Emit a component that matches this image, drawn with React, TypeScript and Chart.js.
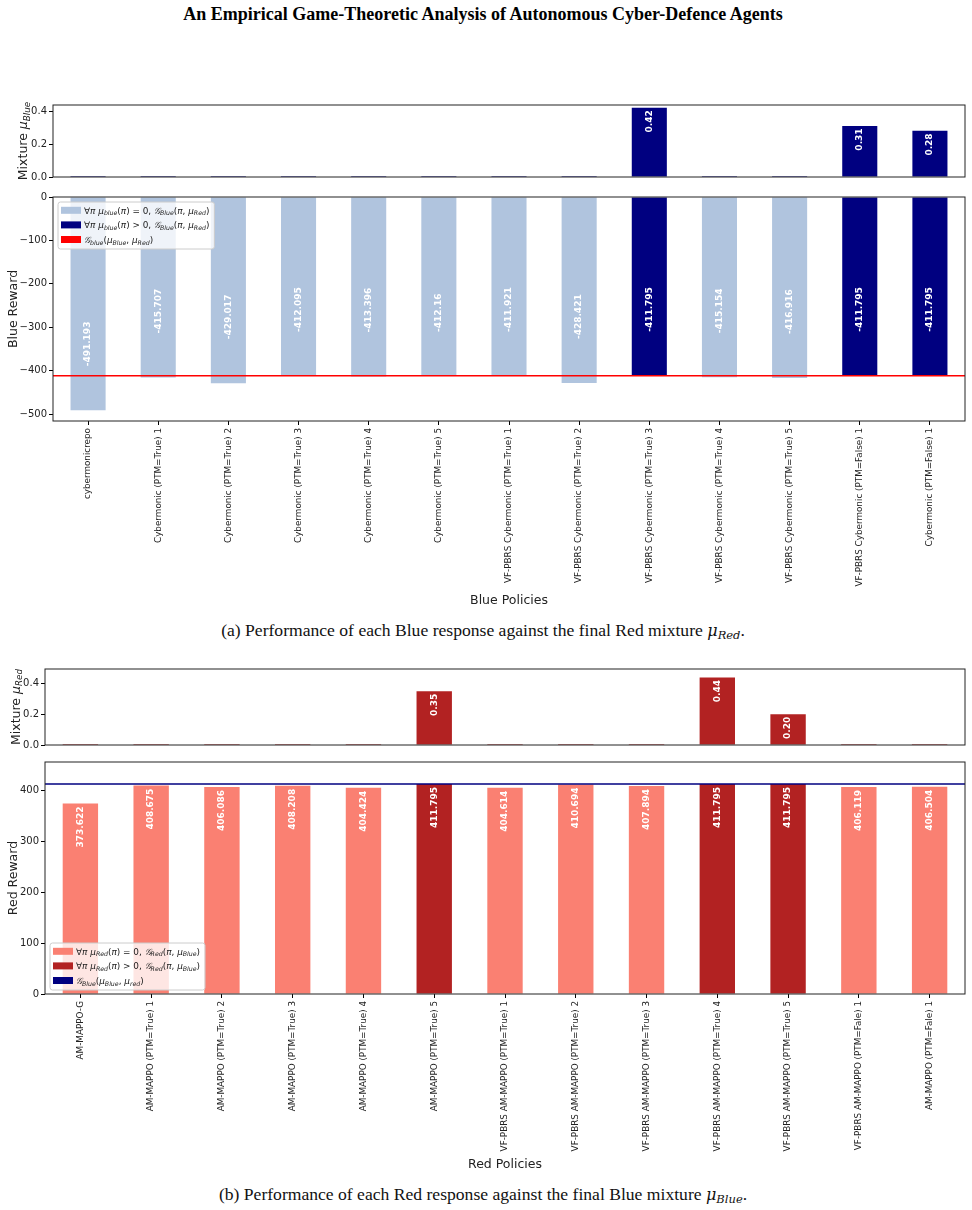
import React, { useEffect, useRef } from 'react';
import { Chart, registerables } from 'chart.js';

Chart.register(...registerables);

// ---------------- data ----------------
const bluePolicies = [
  'cybermonicrepo',
  'Cybermonic (PTM=True) 1',
  'Cybermonic (PTM=True) 2',
  'Cybermonic (PTM=True) 3',
  'Cybermonic (PTM=True) 4',
  'Cybermonic (PTM=True) 5',
  'VF-PBRS Cybermonic (PTM=True) 1',
  'VF-PBRS Cybermonic (PTM=True) 2',
  'VF-PBRS Cybermonic (PTM=True) 3',
  'VF-PBRS Cybermonic (PTM=True) 4',
  'VF-PBRS Cybermonic (PTM=True) 5',
  'VF-PBRS Cybermonic (PTM=False) 1',
  'Cybermonic (PTM=False) 1',
];
const blueRewards = [
  -491.193, -415.707, -429.017, -412.095, -413.396, -412.16, -411.921, -428.421, -411.795, -415.154,
  -416.916, -411.795, -411.795,
];
const blueMixture = [0, 0, 0, 0, 0, 0, 0, 0, 0.42, 0, 0, 0.31, 0.28];
const blueMixtureValue = -411.795;

const redPolicies = [
  'AM-MAPPO-G',
  'AM-MAPPO (PTM=True) 1',
  'AM-MAPPO (PTM=True) 2',
  'AM-MAPPO (PTM=True) 3',
  'AM-MAPPO (PTM=True) 4',
  'AM-MAPPO (PTM=True) 5',
  'VF-PBRS AM-MAPPO (PTM=True) 1',
  'VF-PBRS AM-MAPPO (PTM=True) 2',
  'VF-PBRS AM-MAPPO (PTM=True) 3',
  'VF-PBRS AM-MAPPO (PTM=True) 4',
  'VF-PBRS AM-MAPPO (PTM=True) 5',
  'VF-PBRS AM-MAPPO (PTM=Fale) 1',
  'AM-MAPPO (PTM=Fale) 1',
];
const redRewards = [
  373.622, 408.675, 406.086, 408.208, 404.424, 411.795, 404.614, 410.694, 407.894, 411.795, 411.795,
  406.119, 406.504,
];
const redMixture = [0, 0, 0, 0, 0, 0.35, 0, 0, 0, 0.44, 0.2, 0, 0];
const redMixtureValue = 411.795;

const mixtureTicks = [0, 0.2, 0.4];
const blueRewardTicks = [-500, -400, -300, -200, -100, 0];
const redRewardTicks = [0, 100, 200, 300, 400];

const blueMixtureMax = 0.437;
const blueRewardMin = -515.75;
const redMixtureMax = 0.495;
const redRewardMax = 455;

const blueLegendLabels = [
  '$∀π μ_{blue}(π) = 0, 𝒢_{Blue}(π, μ_{Red})$',
  '$∀π μ_{blue}(π) > 0, 𝒢_{Blue}(π, μ_{Red})$',
  '$𝒢_{blue}(μ_{Blue}, μ_{Red})$',
];
const redLegendLabels = [
  '$∀π μ_{Red}(π) = 0, 𝒢_{Red}(π, μ_{Blue})$',
  '$∀π μ_{Red}(π) > 0, 𝒢_{Red}(π, μ_{Blue})$',
  '$𝒢_{Blue}(μ_{Blue}, μ_{red})$',
];

// ---------------- styling ----------------
const FONT = '"DejaVu Sans", "Noto Sans", sans-serif';
const LIGHT_BLUE = '#b0c4de';
const NAVY = '#000080';
const SALMON = '#fa8072';
const FIREBRICK = '#b22222';
const RED = '#ff0000';
const TEXT = '#222';
const SPINE = '#222';

// ---------------- rich text helpers ----------------
type Piece = { text: string; italic: boolean; sub: boolean };

function parseRich(s: string): Piece[] {
  const pieces: Piece[] = [];
  const chars = Array.from(s);
  let math = false;
  let sub = false;
  const add = (ch: string, italic: boolean, isSub: boolean) => {
    const last = pieces[pieces.length - 1];
    if (last && last.italic === italic && last.sub === isSub) last.text += ch;
    else pieces.push({ text: ch, italic, sub: isSub });
  };
  for (let i = 0; i < chars.length; i++) {
    const ch = chars[i];
    if (ch === '$') {
      math = !math;
      continue;
    }
    if (math && ch === '_' && chars[i + 1] === '{') {
      sub = true;
      i++;
      continue;
    }
    if (math && sub && ch === '}') {
      sub = false;
      continue;
    }
    const letter = /[A-Za-zμπ𝒢]/u.test(ch);
    add(ch, math && letter, sub);
  }
  return pieces;
}

function pieceFont(p: Piece, size: number) {
  const s = p.sub ? size * 0.7 : size;
  return `${p.italic ? 'italic ' : ''}${s}px ${FONT}`;
}

function richWidth(ctx: CanvasRenderingContext2D, pieces: Piece[], size: number) {
  let w = 0;
  for (const p of pieces) {
    ctx.font = pieceFont(p, size);
    w += ctx.measureText(p.text).width;
  }
  return w;
}

function drawRich(
  ctx: CanvasRenderingContext2D,
  pieces: Piece[],
  x: number,
  baseline: number,
  size: number,
  color: string,
  align: 'left' | 'center'
) {
  ctx.save();
  ctx.fillStyle = color;
  ctx.textAlign = 'left';
  ctx.textBaseline = 'alphabetic';
  let cx = align === 'center' ? x - richWidth(ctx, pieces, size) / 2 : x;
  for (const p of pieces) {
    ctx.font = pieceFont(p, size);
    ctx.fillText(p.text, cx, baseline + (p.sub ? size * 0.22 : 0));
    cx += ctx.measureText(p.text).width;
  }
  ctx.restore();
}

// ---------------- panel config ----------------
interface PanelSpec {
  labels: string[];
  values: number[];
  colors: string[];
  yMin: number;
  yMax: number;
  yTicks: number[];
  yFmt: (v: number) => string;
  yWidth: number;
  showX: boolean;
  xHeight: number;
  xTitle?: string;
  yTitle: string;
  yTitleX: number;
  padding: { top: number; right: number; bottom: number; left: number };
  minBar?: number;
  hline?: { value: number; color: string };
  legend?: { corner: 'tl' | 'bl'; dx: number; dy: number; items: { color: string; label: string }[] };
  labelFmt: (v: number) => string | null;
  labelOffset: number;
}

function buildConfig(p: PanelSpec): any {
  const drawPlugin = {
    id: 'panelDraw',
    afterDatasetsDraw(chart: any) {
      const ctx: CanvasRenderingContext2D = chart.ctx;
      const area = chart.chartArea;
      // reference line
      if (p.hline) {
        const y = chart.scales.y.getPixelForValue(p.hline.value);
        ctx.save();
        ctx.strokeStyle = p.hline.color;
        ctx.lineWidth = 1.5;
        ctx.beginPath();
        ctx.moveTo(area.left, y);
        ctx.lineTo(area.right, y);
        ctx.stroke();
        ctx.restore();
      }
      // frame
      ctx.save();
      ctx.strokeStyle = SPINE;
      ctx.lineWidth = 1;
      ctx.strokeRect(area.left, area.top, area.right - area.left, area.bottom - area.top);
      ctx.restore();
      // value labels
      const meta = chart.getDatasetMeta(0);
      meta.data.forEach((el: any, i: number) => {
        const v = p.values[i];
        const txt = p.labelFmt(v);
        if (txt === null) return;
        ctx.save();
        ctx.font = `bold 9px ${FONT}`;
        ctx.fillStyle = '#ffffff';
        ctx.textBaseline = 'middle';
        if (v < 0) {
          ctx.translate(el.x, el.y - p.labelOffset);
          ctx.rotate(-Math.PI / 2);
          ctx.textAlign = 'left';
        } else {
          ctx.translate(el.x, el.y + p.labelOffset);
          ctx.rotate(-Math.PI / 2);
          ctx.textAlign = 'right';
        }
        ctx.fillText(txt, 0, 0);
        ctx.restore();
      });
    },
    afterDraw(chart: any) {
      const ctx: CanvasRenderingContext2D = chart.ctx;
      const area = chart.chartArea;
      // y title
      const size = 12.5;
      const pieces = parseRich(p.yTitle);
      ctx.save();
      ctx.translate(p.yTitleX, (area.top + area.bottom) / 2);
      ctx.rotate(-Math.PI / 2);
      drawRich(ctx, pieces, 0, size * 0.36, size, TEXT, 'center');
      ctx.restore();
      // legend
      if (p.legend) {
        const lg = p.legend;
        const fs = 8.9;
        const rowH = 14.6;
        const parsed = lg.items.map((it) => parseRich(it.label));
        const textW = Math.max(...parsed.map((pc) => richWidth(ctx, pc, fs)));
        const w = 26 + textW + 5;
        const h = 47;
        const x = area.left + lg.dx;
        const y = lg.corner === 'tl' ? area.top + lg.dy : area.bottom - lg.dy - h;
        const r = 2.5;
        ctx.save();
        ctx.beginPath();
        ctx.moveTo(x + r, y);
        ctx.lineTo(x + w - r, y);
        ctx.arcTo(x + w, y, x + w, y + r, r);
        ctx.lineTo(x + w, y + h - r);
        ctx.arcTo(x + w, y + h, x + w - r, y + h, r);
        ctx.lineTo(x + r, y + h);
        ctx.arcTo(x, y + h, x, y + h - r, r);
        ctx.lineTo(x, y + r);
        ctx.arcTo(x, y, x + r, y, r);
        ctx.closePath();
        ctx.fillStyle = 'rgba(255,255,255,0.8)';
        ctx.fill();
        ctx.strokeStyle = '#cccccc';
        ctx.lineWidth = 1;
        ctx.stroke();
        lg.items.forEach((it, i) => {
          const cy = y + 8.3 + i * rowH;
          ctx.fillStyle = it.color;
          ctx.fillRect(x + 3, cy - 3.5, 20, 7);
          drawRich(ctx, parsed[i], x + 26, cy + fs * 0.36, fs, TEXT, 'left');
        });
        ctx.restore();
      }
    },
  };

  return {
    type: 'bar',
    data: {
      labels: p.labels,
      datasets: [
        {
          data: p.values,
          backgroundColor: p.colors,
          borderWidth: 0,
          barPercentage: 0.5,
          categoryPercentage: 1,
          minBarLength: p.minBar ?? 0,
        },
      ],
    },
    options: {
      animation: false,
      responsive: false,
      events: [],
      layout: { padding: p.padding },
      plugins: {
        legend: { display: false },
        tooltip: { enabled: false },
        title: { display: false },
      },
      scales: {
        x: {
          display: p.showX,
          offset: true,
          grid: {
            display: true,
            drawOnChartArea: false,
            drawTicks: true,
            tickLength: 4,
            offset: false,
            color: '#000',
            lineWidth: 1,
          },
          border: { display: false },
          ticks: {
            autoSkip: false,
            minRotation: 90,
            maxRotation: 90,
            padding: 3,
            color: TEXT,
            font: { family: FONT, size: 8.8 },
          },
          title: {
            display: !!p.xTitle,
            text: p.xTitle || '',
            color: TEXT,
            font: { family: FONT, size: 12.5, lineHeight: 1.2 },
            padding: { top: 0, bottom: 0 },
          },
          afterFit: (s: any) => {
            s.height = p.xHeight;
          },
        },
        y: {
          min: p.yMin,
          max: p.yMax,
          afterBuildTicks: (s: any) => {
            s.ticks = p.yTicks.map((v) => ({ value: v }));
          },
          grid: {
            display: true,
            drawOnChartArea: false,
            drawTicks: true,
            tickLength: 4,
            color: '#000',
            lineWidth: 1,
          },
          border: { display: false },
          ticks: {
            padding: 2,
            color: TEXT,
            font: { family: FONT, size: 10 },
            callback: (v: any) => p.yFmt(Number(v)),
          },
          afterFit: (s: any) => {
            s.width = p.yWidth;
          },
        },
      },
    },
    plugins: [drawPlugin],
  };
}

const minusFmt = (v: number) => (v < 0 ? '\u2212' + Math.abs(v) : String(v));
const oneDec = (v: number) => v.toFixed(1);

const panelA1: PanelSpec = {
  labels: bluePolicies,
  values: blueMixture,
  colors: blueMixture.map(() => NAVY),
  yMin: 0,
  yMax: blueMixtureMax,
  yTicks: mixtureTicks,
  yFmt: oneDec,
  yWidth: 53,
  showX: false,
  xHeight: 0,
  yTitle: 'Mixture $μ_{Blue}$',
  yTitleX: 22.5,
  padding: { top: 10, right: 7, bottom: 6, left: 0 },
  minBar: 1,
  labelFmt: (v) => (v > 0 ? v.toFixed(2) : null),
  labelOffset: 2.5,
};

const panelA2: PanelSpec = {
  labels: bluePolicies,
  values: blueRewards,
  colors: blueMixture.map((m) => (m > 0 ? NAVY : LIGHT_BLUE)),
  yMin: blueRewardMin,
  yMax: 0,
  yTicks: blueRewardTicks,
  yFmt: minusFmt,
  yWidth: 53,
  showX: true,
  xHeight: 187,
  xTitle: 'Blue Policies',
  yTitle: 'Blue Reward',
  yTitleX: 12,
  padding: { top: 10, right: 7, bottom: 0, left: 0 },
  hline: { value: blueMixtureValue, color: RED },
  legend: {
    corner: 'tl',
    dx: 5,
    dy: 5,
    items: [
      { color: LIGHT_BLUE, label: blueLegendLabels[0] },
      { color: NAVY, label: blueLegendLabels[1] },
      { color: RED, label: blueLegendLabels[2] },
    ],
  },
  labelFmt: (v) => String(v),
  labelOffset: 44,
};

const panelB1: PanelSpec = {
  labels: redPolicies,
  values: redMixture,
  colors: redMixture.map(() => FIREBRICK),
  yMin: 0,
  yMax: redMixtureMax,
  yTicks: mixtureTicks,
  yFmt: oneDec,
  yWidth: 45,
  showX: false,
  xHeight: 0,
  yTitle: 'Mixture $μ_{Red}$',
  yTitleX: 15,
  padding: { top: 10, right: 7, bottom: 6, left: 0 },
  minBar: 1,
  labelFmt: (v) => (v > 0 ? v.toFixed(2) : null),
  labelOffset: 2.5,
};

const panelB2: PanelSpec = {
  labels: redPolicies,
  values: redRewards,
  colors: redMixture.map((m) => (m > 0 ? FIREBRICK : SALMON)),
  yMin: 0,
  yMax: redRewardMax,
  yTicks: redRewardTicks,
  yFmt: minusFmt,
  yWidth: 45,
  showX: true,
  xHeight: 178,
  xTitle: 'Red Policies',
  yTitle: 'Red Reward',
  yTitleX: 12,
  padding: { top: 10, right: 7, bottom: 0, left: 0 },
  hline: { value: redMixtureValue, color: NAVY },
  legend: {
    corner: 'bl',
    dx: 5,
    dy: 4,
    items: [
      { color: SALMON, label: redLegendLabels[0] },
      { color: FIREBRICK, label: redLegendLabels[1] },
      { color: NAVY, label: redLegendLabels[2] },
    ],
  },
  labelFmt: (v) => String(v),
  labelOffset: 3,
};

function ChartBox({ top, height, spec }: { top: number; height: number; spec: PanelSpec }) {
  const ref = useRef<HTMLCanvasElement>(null);
  useEffect(() => {
    if (!ref.current) return;
    const chart = new Chart(ref.current, buildConfig(spec));
    return () => chart.destroy();
  }, [spec]);
  return (
    <canvas
      ref={ref}
      width={972}
      height={height}
      style={{ position: 'absolute', left: 0, top, width: 972, height }}
    />
  );
}

const serif = '"Liberation Serif", "DejaVu Serif", serif';

function Caption({ top, children }: { top: number; children: React.ReactNode }) {
  return (
    <div
      style={{
        position: 'absolute',
        left: 0,
        top,
        width: 966,
        textAlign: 'center',
        fontFamily: serif,
        fontSize: 17.6,
        lineHeight: '20px',
        color: '#111',
      }}
    >
      {children}
    </div>
  );
}

function MathMu({ sub }: { sub: string }) {
  return (
    <span style={{ fontStyle: 'italic', fontFamily: '"DejaVu Serif", serif', fontSize: 16 }}>
      μ<sub style={{ fontSize: 11.5, verticalAlign: '-3px', lineHeight: 0 }}>{sub}</sub>
    </span>
  );
}

export default function App() {
  return (
    <div style={{ position: 'relative', width: 972, height: 1210, background: '#fff', overflow: 'hidden' }}>
      <style>{'body{margin:0;background:#fff;}'}</style>
      <div
        style={{
          position: 'absolute',
          left: 0,
          top: 4,
          width: 966,
          textAlign: 'center',
          fontFamily: serif,
          fontWeight: 'bold',
          fontSize: 18,
          lineHeight: '20px',
          color: '#000',
        }}
      >
        An Empirical Game-Theoretic Analysis of Autonomous Cyber-Defence Agents
      </div>
      <ChartBox top={95} height={90} spec={panelA1} />
      <ChartBox top={187} height={421} spec={panelA2} />
      <Caption top={620}>
        (a) Performance of each Blue response against the final Red mixture <MathMu sub="Red" />.
      </Caption>
      <ChartBox top={659} height={94} spec={panelB1} />
      <ChartBox top={752} height={420} spec={panelB2} />
      <Caption top={1184}>
        (b) Performance of each Red response against the final Blue mixture <MathMu sub="Blue" />.
      </Caption>
    </div>
  );
}
